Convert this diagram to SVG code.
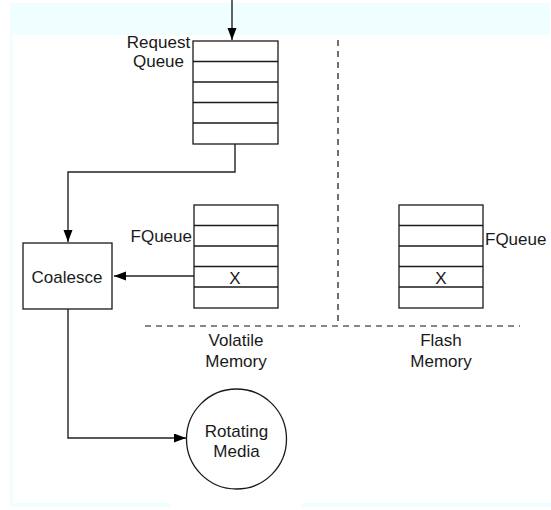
<svg xmlns="http://www.w3.org/2000/svg" width="551" height="510" viewBox="0 0 551 510">
  <style>
    .box { fill: #ffffff; stroke: #1a1a1a; stroke-width: 1.3; }
    .row { stroke: #1a1a1a; stroke-width: 1.3; }
    .conn { fill: none; stroke: #222222; stroke-width: 1.4; }
    .dash { fill: none; stroke: #111111; stroke-width: 1.2; stroke-dasharray: 6 5; }
    .t { font-family: "Liberation Sans", Arial, Helvetica, sans-serif; font-size: 17px; fill: #1a1a1a; }
    .bg { fill: #effefe; }
  </style>
  <defs>
    <marker id="ah" markerUnits="userSpaceOnUse" markerWidth="13" markerHeight="10" refX="12" refY="4.5" orient="auto">
      <path d="M0,0 L12,4.5 L0,9 z" fill="#000000"/>
    </marker>
  </defs>

  <rect x="0" y="0" width="551" height="510" fill="#ffffff"/>
  <g id="background">
    <rect class="bg" x="10" y="3" width="540" height="32"/>
    <rect class="bg" x="10" y="35" width="3" height="470"/>
    <rect class="bg" x="10" y="503" width="160" height="4"/>
    <rect class="bg" x="302" y="503" width="249" height="4"/>
  </g>

  <g id="dividers">
    <line class="dash" x1="338" y1="40" x2="338" y2="326"/>
    <line class="dash" x1="145" y1="326" x2="520" y2="326"/>
  </g>

  <g id="connectors">
    <line class="conn" x1="232" y1="0" x2="232" y2="40" marker-end="url(#ah)"/>
    <polyline class="conn" points="235,144 235,172 68,172 68,242" marker-end="url(#ah)"/>
    <line class="conn" x1="194" y1="276" x2="114" y2="276" marker-end="url(#ah)"/>
    <polyline class="conn" points="68,309 68,438 186,438" marker-end="url(#ah)"/>
  </g>

  <g id="request-queue">
    <rect class="box" x="193" y="41" width="85" height="103"/>
    <line class="row" x1="193" y1="61.5" x2="278" y2="61.5"/>
    <line class="row" x1="193" y1="82" x2="278" y2="82"/>
    <line class="row" x1="193" y1="102.5" x2="278" y2="102.5"/>
    <line class="row" x1="193" y1="123" x2="278" y2="123"/>
    <text class="t" x="158.5" y="48" text-anchor="middle">Request</text>
    <text class="t" x="158.5" y="67" text-anchor="middle">Queue</text>
  </g>

  <g id="coalesce">
    <rect class="box" x="23" y="243" width="89" height="66"/>
    <text class="t" x="67" y="283" text-anchor="middle">Coalesce</text>
  </g>

  <g id="volatile-fqueue">
    <rect class="box" x="194" y="205" width="84" height="103"/>
    <line class="row" x1="194" y1="225.5" x2="278" y2="225.5"/>
    <line class="row" x1="194" y1="246" x2="278" y2="246"/>
    <line class="row" x1="194" y1="266.5" x2="278" y2="266.5"/>
    <line class="row" x1="194" y1="287" x2="278" y2="287"/>
    <text class="t" x="235" y="284" text-anchor="middle">X</text>
    <text class="t" x="192" y="242" text-anchor="end">FQueue</text>
  </g>

  <g id="flash-fqueue">
    <rect class="box" x="399" y="205" width="84" height="103"/>
    <line class="row" x1="399" y1="225.5" x2="483" y2="225.5"/>
    <line class="row" x1="399" y1="246" x2="483" y2="246"/>
    <line class="row" x1="399" y1="266.5" x2="483" y2="266.5"/>
    <line class="row" x1="399" y1="287" x2="483" y2="287"/>
    <text class="t" x="441" y="284" text-anchor="middle">X</text>
    <text class="t" x="485" y="245">FQueue</text>
  </g>

  <g id="volatile-label">
    <text class="t" x="236" y="346" text-anchor="middle">Volatile</text>
    <text class="t" x="236" y="367" text-anchor="middle">Memory</text>
  </g>

  <g id="flash-label">
    <text class="t" x="441" y="346" text-anchor="middle">Flash</text>
    <text class="t" x="441" y="367" text-anchor="middle">Memory</text>
  </g>

  <g id="rotating-media">
    <circle class="box" cx="236.5" cy="439" r="50"/>
    <text class="t" x="236.5" y="437" text-anchor="middle">Rotating</text>
    <text class="t" x="236.5" y="457" text-anchor="middle">Media</text>
  </g>
</svg>
